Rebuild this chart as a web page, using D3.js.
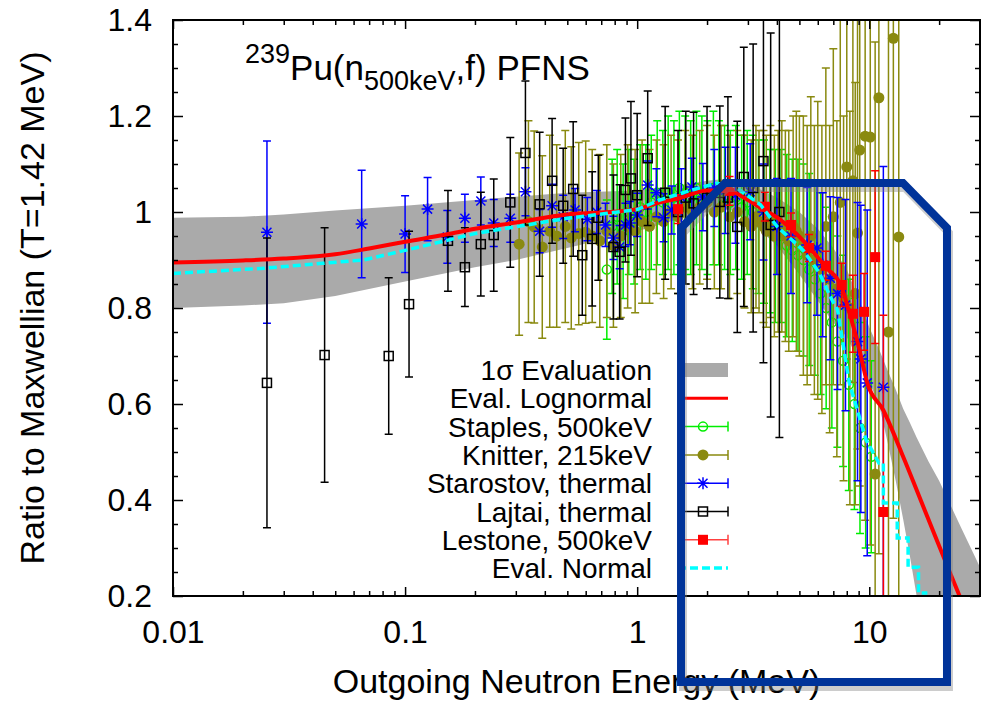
<!DOCTYPE html>
<html>
<head>
<meta charset="utf-8">
<script src="https://cdn.jsdelivr.net/npm/d3@7"></script>
<style>
  body { margin: 0; background: #fff; }
  text { font-family: "Liberation Sans", Arial, Helvetica, sans-serif; fill: #000; }
</style>
</head>
<body>
<svg id="chart" width="988" height="702"></svg>
<script>
// ---- data (E in MeV, ratio to Maxwellian) ----
const bandE  = [0.01,0.02,0.03,0.05,0.1,0.2,0.3,0.5,1,1.5,2,2.5,3,4,5,6,7,8,9,10,11,12,13,14,15,16,18,20,25,30];
const bandLo = [0.80,0.805,0.81,0.825,0.855,0.885,0.90,0.925,0.96,0.985,1.0,1.005,0.985,0.93,0.87,0.815,0.77,0.74,0.69,0.645,0.60,0.52,0.44,0.36,0.28,0.20,0.05,-0.1,-0.3,-0.5];
const bandHi = [0.988,0.99,0.995,1.003,1.013,1.025,1.032,1.04,1.045,1.055,1.065,1.07,1.06,1.03,1.0,0.965,0.925,0.88,0.82,0.76,0.715,0.67,0.63,0.59,0.56,0.53,0.48,0.44,0.34,0.26];

const lognE = [0.01,0.02,0.03,0.05,0.07,0.1,0.15,0.2,0.3,0.5,0.7,1.0,1.25,1.5,2.0,2.5,3.0,3.5,4.1,4.6,5.5,6.5,7.6,8.1,9.0,9.8,11.5,14,17.8,22.3,24.5,26];
const lognR = [0.895,0.899,0.903,0.912,0.924,0.938,0.953,0.965,0.978,0.995,0.999,1.006,1.02,1.028,1.045,1.043,1.025,1.005,0.985,0.965,0.927,0.885,0.844,0.80,0.72,0.644,0.587,0.49,0.365,0.248,0.2,0.17];

const normE = [0.01,0.025,0.044,0.066,0.1,0.2,0.5,1.0,1.25,1.7,2.2,2.6,3.4,4.0,5.2,6.1,6.8,7.3,8.2,9.7,11.0,11.5,11.5,13.2,13.2,14.7,14.7,16.3,16.3,17.8];
const normR = [0.872,0.883,0.893,0.90,0.92,0.955,0.987,1.005,1.025,1.045,1.06,1.055,1.015,0.97,0.92,0.873,0.823,0.796,0.644,0.525,0.477,0.477,0.394,0.394,0.321,0.321,0.26,0.26,0.206,0.206];

const staplesE = [0.74,0.78,0.82,0.87,0.92,0.97,1.03,1.09,1.15,1.22,1.29,1.36,1.44,1.52,1.61,1.70,1.80,1.90,2.01,2.13,2.25,2.38,2.52,2.66,2.82,2.98,3.15,3.33,3.52,3.73,3.94,4.17,4.41,4.66,4.93,5.21,5.51,5.83,6.17,6.52,6.90,7.29,7.71,8.16,8.63,9.12,9.65,10.2];
const staplesR = [0.88,0.97,0.99,0.96,1.00,0.98,1.01,1.00,1.02,1.04,1.02,1.04,1.03,1.05,1.04,1.03,1.05,1.04,1.03,1.05,1.04,1.03,1.02,1.03,1.01,1.02,1.00,0.99,0.98,0.96,0.95,0.95,0.93,0.92,0.91,0.90,0.88,0.86,0.83,0.80,0.77,0.73,0.69,0.64,0.60,0.55,0.52,0.49];
const staplesErr = [0.145,0.14,0.14,0.14,0.13,0.13,0.13,0.14,0.14,0.15,0.15,0.16,0.16,0.16,0.16,0.16,0.16,0.16,0.16,0.16,0.15,0.15,0.15,0.15,0.15,0.15,0.16,0.16,0.17,0.17,0.18,0.18,0.19,0.19,0.2,0.2,0.2,0.2,0.21,0.21,0.22,0.22,0.22,0.22,0.22,0.22,0.22,0.2];

const knitterE = [0.31,0.34,0.36,0.39,0.42,0.45,0.49,0.52,0.56,0.60,0.64,0.69,0.74,0.79,0.85,0.91,0.98,1.05,1.13,1.21,1.30,1.40,1.50,1.61,1.73,1.86,2.0,2.15,2.3,2.5,2.7,2.9,3.1,3.25,3.35,3.5,3.6,3.75,3.9,4.05,4.2,4.35,4.5,4.7,4.85,5.0,5.2,5.4,5.6,5.8,6.0,6.25,6.5,6.75,7.0,7.25,7.5,7.75,8.0,8.25,8.5,8.7,8.9,9.1,9.6,10.1,10.6,11.0,12.1,12.7,13.4];
const knitterR = [0.933,0.98,0.969,0.927,0.96,0.95,0.97,0.946,0.955,0.958,0.95,0.94,0.96,0.93,0.95,0.97,0.96,0.98,0.97,0.99,0.98,1.00,0.99,1.01,1.00,1.01,1.02,1.00,1.01,0.99,1.00,0.98,0.97,0.99,0.98,0.97,0.96,0.98,0.95,0.96,0.97,0.95,0.94,0.97,0.96,0.95,0.93,0.91,0.95,0.90,0.92,0.88,0.97,0.86,0.99,0.84,1.02,0.82,1.094,0.80,1.065,0.83,0.956,1.129,1.158,1.156,0.454,1.238,0.75,1.362,0.948];
const knitterErr = [0.19,0.21,0.2,0.19,0.2,0.19,0.2,0.19,0.19,0.19,0.18,0.18,0.18,0.17,0.17,0.17,0.17,0.17,0.16,0.16,0.16,0.16,0.16,0.16,0.16,0.16,0.16,0.16,0.17,0.17,0.17,0.18,0.18,0.19,0.19,0.2,0.2,0.2,0.21,0.21,0.22,0.22,0.23,0.23,0.25,0.25,0.27,0.27,0.29,0.28,0.31,0.3,0.33,0.32,0.35,0.35,0.38,0.38,0.4,0.41,0.42,0.44,0.45,0.7,0.8,0.85,0.9,0.95,1.0,1.0,0.9];

const starostovE = [0.0254,0.065,0.1,0.125,0.152,0.181,0.212,0.241,0.284,0.33,0.38,0.43,0.48,0.54,0.61,0.67,0.73,0.79,0.84,0.89,0.93,1.0,1.11,1.21,1.30,1.41,1.55,1.72,1.92,2.15,2.4,2.65,3.07,3.5,4.0,4.6,5.4,5.95,6.3,6.8,7.3,7.9,8.9,9.2,9.8,11.5];
const starostovR = [0.958,0.975,0.954,1.006,0.948,0.987,1.023,0.977,0.987,1.042,0.96,1.013,0.99,1.004,0.985,1.0,0.973,0.946,0.927,0.973,0.977,0.994,1.056,1.04,0.988,1.004,1.03,1.052,1.031,1.05,1.045,1.035,1.042,1.0,0.97,0.95,0.931,0.925,0.89,0.862,0.83,0.806,0.73,0.694,0.644,0.635];
const starostovErr = [0.19,0.112,0.08,0.066,0.055,0.05,0.05,0.049,0.05,0.05,0.045,0.045,0.045,0.045,0.045,0.045,0.045,0.045,0.045,0.045,0.045,0.045,0.05,0.05,0.05,0.05,0.06,0.06,0.07,0.08,0.09,0.1,0.1,0.1,0.1,0.12,0.12,0.14,0.15,0.17,0.2,0.22,0.29,0.32,0.36,0.46];

const lajtaiE = [0.0254,0.045,0.085,0.104,0.153,0.181,0.212,0.241,0.284,0.33,0.38,0.43,0.48,0.53,0.58,0.64,0.68,0.79,0.84,0.89,0.94,1.0,1.11,1.32,1.5,1.62,1.75,2.0,2.27,2.46,2.7,2.88,3.16,3.5,3.76,4.1];
const lajtaiR = [0.644,0.702,0.70,0.808,0.94,0.885,0.933,0.952,1.02,1.123,1.016,1.065,1.013,1.048,0.91,0.944,0.988,0.927,0.917,1.046,1.07,1.035,1.112,1.04,1.0,1.03,1.018,1.03,1.021,1.03,0.969,1.073,1.05,1.106,0.973,1.0];
const lajtaiErr = [0.302,0.265,0.163,0.152,0.105,0.082,0.108,0.117,0.135,0.15,0.15,0.13,0.12,0.14,0.125,0.14,0.13,0.15,0.14,0.15,0.16,0.17,0.14,0.18,0.17,0.18,0.19,0.19,0.2,0.21,0.22,0.27,0.3,0.42,0.4,0.47];

const lestoneE = [1.5,2.5,3.55,4.6,5.5,6.5,7.6,8.5,9.5,10.6,11.5];
const lestoneR = [1.006,1.044,1.011,0.973,0.925,0.888,0.848,0.788,0.792,0.906,0.375];
const lestoneErr = [0.03,0.03,0.03,0.025,0.028,0.03,0.045,0.08,0.08,0.18,0.41];

const xTicks = [0.01,0.1,1,10];
const xTickLabels = ["0.01","0.1","1","10"];
const yTicks = [0.2,0.4,0.6,0.8,1.0,1.2,1.4];
const yTickLabels = ["0.2","0.4","0.6","0.8","1","1.2","1.4"];

const legendLabels = ["1\u03c3 Evaluation","Eval. Lognormal","Staples, 500keV","Knitter, 215keV","Starostov, thermal","Lajtai, thermal","Lestone, 500keV","Eval. Normal"];

// highlight frame drawn over the plot, corners in data units
const highlightE = [1.545,1.545,2.39,13.97,21.62,21.62];
const highlightR = [0.0208,0.9667,1.0604,1.0604,0.9667,0.0208];

// ---- layout ----
const svg = d3.select("#chart");
const plotL = 173, plotR = 980, plotT = 20, plotB = 596;

const x = d3.scaleLog().domain([0.01, 30]).range([plotL, plotR]);
const y = d3.scaleLinear().domain([0.2, 1.4]).range([plotB, plotT]);

svg.append("clipPath").attr("id", "plotclip")
  .append("rect").attr("x", plotL).attr("y", plotT)
  .attr("width", plotR - plotL).attr("height", plotB - plotT);

const plot = svg.append("g").attr("clip-path", "url(#plotclip)");

// 1 sigma band
plot.append("path")
  .datum(bandE.map((e, i) => [e, bandLo[i], bandHi[i]]))
  .attr("fill", "#aaaaaa")
  .attr("d", d3.area().x(d => x(d[0])).y0(d => y(d[1])).y1(d => y(d[2])));

// markers
const markers = {
  openCircle: (g, cx, cy, c) => g.append("circle").attr("cx", cx).attr("cy", cy).attr("r", 4.5)
      .attr("fill", "none").attr("stroke", c).attr("stroke-width", 1.5),
  dot: (g, cx, cy, c) => g.append("circle").attr("cx", cx).attr("cy", cy).attr("r", 5.5).attr("fill", c),
  star: (g, cx, cy, c) => g.append("path")
      .attr("d", `M${cx-6},${cy}H${cx+6}M${cx},${cy-6}V${cy+6}M${cx-4.5},${cy-4.5}L${cx+4.5},${cy+4.5}M${cx-4.5},${cy+4.5}L${cx+4.5},${cy-4.5}`)
      .attr("stroke", c).attr("stroke-width", 1.5).attr("fill", "none"),
  openSquare: (g, cx, cy, c) => g.append("rect").attr("x", cx - 4.5).attr("y", cy - 4.5).attr("width", 9).attr("height", 9)
      .attr("fill", "none").attr("stroke", c).attr("stroke-width", 1.5),
  square: (g, cx, cy, c) => g.append("rect").attr("x", cx - 5).attr("y", cy - 5).attr("width", 10).attr("height", 10).attr("fill", c)
};

function errorSeries(E, R, err, color, marker) {
  const g = plot.append("g").attr("stroke", color).attr("stroke-width", 1.5);
  E.forEach((e, i) => {
    const px = x(e), lo = y(R[i] - err[i]), hi = y(R[i] + err[i]);
    g.append("path").attr("fill", "none")
      .attr("d", `M${px},${lo}V${hi}M${px-4},${lo}H${px+4}M${px-4},${hi}H${px+4}`);
  });
  const m = plot.append("g");
  E.forEach((e, i) => markers[marker](m, x(e), y(R[i]), color));
}

errorSeries(staplesE, staplesR, staplesErr, "#00ee00", "openCircle");
errorSeries(knitterE, knitterR, knitterErr, "#8a8a10", "dot");
errorSeries(starostovE, starostovR, starostovErr, "#0000ff", "star");
errorSeries(lajtaiE, lajtaiR, lajtaiErr, "#000000", "openSquare");
errorSeries(lestoneE, lestoneR, lestoneErr, "#ff0000", "square");

// evaluation curves
plot.append("path")
  .datum(lognE.map((e, i) => [e, lognR[i]]))
  .attr("fill", "none").attr("stroke", "#ff0000").attr("stroke-width", 4)
  .attr("d", d3.line().x(d => x(d[0])).y(d => y(d[1])).curve(d3.curveMonotoneX));

plot.append("path")
  .datum(normE.map((e, i) => [e, normR[i]]))
  .attr("fill", "none").attr("stroke", "#00ffff").attr("stroke-width", 3.5)
  .attr("stroke-dasharray", "8,4")
  .attr("d", d3.line().x(d => x(d[0])).y(d => y(d[1])));

// ---- axes (ticks inside, mirrored) ----
const xMinor = [];
[0.01, 0.1, 1, 10].forEach(dec => { for (let k = 2; k <= 9; k++) if (dec * k < 30) xMinor.push(dec * k); });
const yMinor = d3.range(0.25, 1.4, 0.05).filter(v => Math.abs(v * 5 - Math.round(v * 5)) > 1e-6);

function styleAxis(g) {
  g.select(".domain").remove();
  g.selectAll("line").attr("stroke", "#000").attr("stroke-width", 1.5);
  g.attr("font-size", 32).attr("font-family", "'Liberation Sans', Arial, sans-serif");
}

svg.append("g").attr("transform", `translate(0,${plotB})`)
  .call(d3.axisBottom(x).tickValues(xTicks).tickFormat((d, i) => xTickLabels[i]).tickSize(-9).tickPadding(24))
  .call(styleAxis);
svg.append("g").attr("transform", `translate(0,${plotB})`)
  .call(d3.axisBottom(x).tickValues(xMinor).tickFormat("").tickSize(-5)).call(styleAxis);
svg.append("g").attr("transform", `translate(0,${plotT})`)
  .call(d3.axisTop(x).tickValues(xTicks).tickFormat("").tickSize(-9)).call(styleAxis);
svg.append("g").attr("transform", `translate(0,${plotT})`)
  .call(d3.axisTop(x).tickValues(xMinor).tickFormat("").tickSize(-5)).call(styleAxis);

svg.append("g").attr("transform", `translate(${plotL},0)`)
  .call(d3.axisLeft(y).tickValues(yTicks).tickFormat((d, i) => yTickLabels[i]).tickSize(-10).tickPadding(21))
  .call(styleAxis);
svg.append("g").attr("transform", `translate(${plotL},0)`)
  .call(d3.axisLeft(y).tickValues(yMinor).tickFormat("").tickSize(-5)).call(styleAxis);
svg.append("g").attr("transform", `translate(${plotR},0)`)
  .call(d3.axisRight(y).tickValues(yTicks).tickFormat("").tickSize(-10)).call(styleAxis);
svg.append("g").attr("transform", `translate(${plotR},0)`)
  .call(d3.axisRight(y).tickValues(yMinor).tickFormat("").tickSize(-5)).call(styleAxis);

svg.append("rect").attr("x", plotL).attr("y", plotT)
  .attr("width", plotR - plotL).attr("height", plotB - plotT)
  .attr("fill", "none").attr("stroke", "#000").attr("stroke-width", 2);

// axis titles
svg.append("text").attr("x", (plotL + plotR) / 2).attr("y", 693)
  .attr("text-anchor", "middle").attr("font-size", 34)
  .text("Outgoing Neutron Energy (MeV)");
svg.append("text").attr("transform", `translate(44,${(plotT + plotB) / 2}) rotate(-90)`)
  .attr("text-anchor", "middle").attr("font-size", 34)
  .text("Ratio to Maxwellian (T=1.42 MeV)");

// title
const title = svg.append("text").attr("x", 245).attr("y", 80).attr("font-size", 35);
title.append("tspan").attr("font-size", 27).attr("dy", -17).text("239");
title.append("tspan").attr("dy", 17).text("Pu(n");
title.append("tspan").attr("font-size", 27).attr("dy", 10).text("500keV");
title.append("tspan").attr("dy", -10).text(",f) PFNS");

// legend
const legend = svg.append("g");
const rowY = i => 370 + i * 28.3;
const sx0 = 678, sx1 = 728, sxm = 703;
legendLabels.forEach((lab, i) => {
  legend.append("text").attr("x", 652).attr("y", rowY(i)).attr("dy", "0.36em")
    .attr("text-anchor", "end").attr("font-size", 28).text(lab);
});
legend.append("rect").attr("x", 685).attr("y", rowY(0) - 7).attr("width", sx1 - 685).attr("height", 14).attr("fill", "#aaaaaa");
legend.append("line").attr("x1", sx0).attr("x2", sx1).attr("y1", rowY(1)).attr("y2", rowY(1))
  .attr("stroke", "#ff0000").attr("stroke-width", 3);
[["#00ee00", "openCircle"], ["#8a8a10", "dot"], ["#0000ff", "star"], ["#000000", "openSquare"], ["#ff4040", "square"]]
  .forEach(([c, m], k) => {
    const yy = rowY(k + 2);
    legend.append("path").attr("fill", "none").attr("stroke", c).attr("stroke-width", 1.5)
      .attr("d", `M${sx0},${yy}H${sx1}M${sx1},${yy-5}V${yy+5}`);
    markers[m](legend, sxm, yy, c === "#ff4040" ? "#ff0000" : c);
  });
legend.append("line").attr("x1", sx0).attr("x2", sx1).attr("y1", rowY(7)).attr("y2", rowY(7))
  .attr("stroke", "#00ffff").attr("stroke-width", 3.5).attr("stroke-dasharray", "8,4");

// highlight frame with its drop shadow
const frameLine = d3.line().x(d => x(d[0])).y(d => y(d[1])).curve(d3.curveLinearClosed);
const framePts = highlightE.map((e, i) => [e, highlightR[i]]);
svg.append("path").datum(framePts)
  .attr("transform", "translate(2,5)")
  .attr("fill", "none").attr("stroke", "#808080").attr("stroke-opacity", 0.4)
  .attr("stroke-width", 8).attr("stroke-linejoin", "miter")
  .attr("d", frameLine);
svg.append("path").datum(framePts)
  .attr("fill", "none").attr("stroke", "#003399")
  .attr("stroke-width", 8).attr("stroke-linejoin", "miter")
  .attr("d", frameLine);
</script>
</body>
</html>
